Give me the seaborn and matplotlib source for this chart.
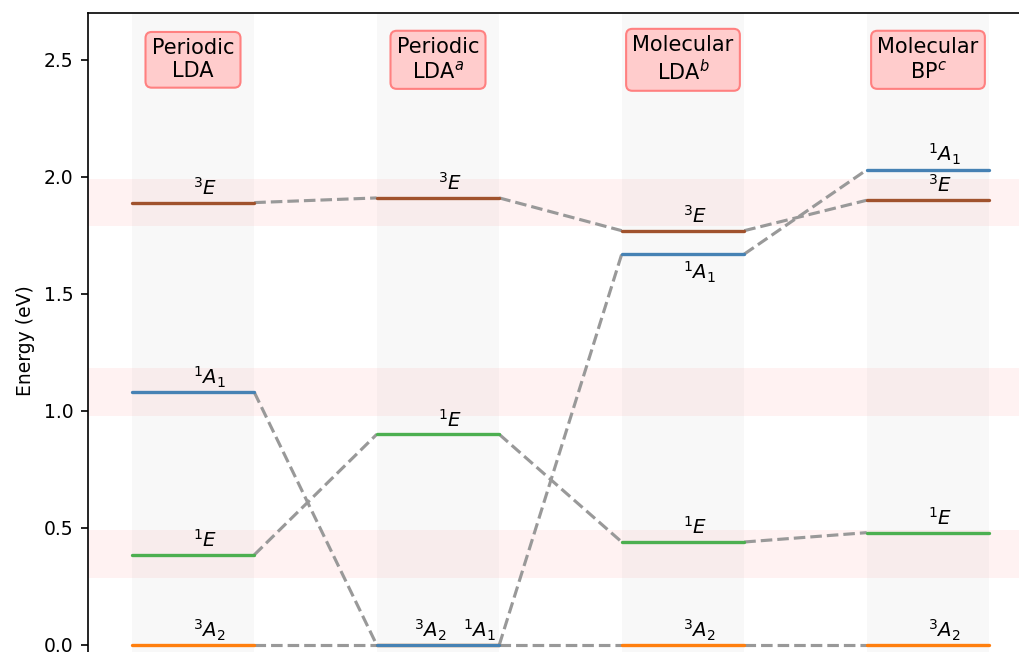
import matplotlib
matplotlib.use("Agg")
import matplotlib.pyplot as plt
import seaborn as sns
import pandas as pd
import numpy as np

# ---- data ----
methods = ["Periodic\nLDA", "Periodic\nLDA$^a$", "Molecular\nLDA$^b$", "Molecular\nBP$^c$"]
state_names = ["3A2", "1E", "1A1", "3E"]
state_tex = {"3A2": "$^3A_2$", "1E": "$^1E$", "1A1": "$^1A_1$", "3E": "$^3E$"}
e_3A2 = [0.0, 0.0, 0.0, 0.0]
e_1E = [0.385, 0.90, 0.44, 0.48]
e_1A1 = [1.08, 0.0, 1.67, 2.03]
e_3E = [1.89, 1.91, 1.77, 1.90]
band_lo = [0.285, 0.98, 1.79]
band_hi = [0.49, 1.185, 1.99]
yticks = [0.0, 0.5, 1.0, 1.5, 2.0, 2.5]

colors = {"3A2": "#ff7f0e", "1E": "#4caf50", "1A1": "#4682b4", "3E": "#a0522d"}
energies = {"3A2": e_3A2, "1E": e_1E, "1A1": e_1A1, "3E": e_3E}

sns.set_theme(style="ticks")
plt.rcParams["font.family"] = ["DejaVu Sans"]
plt.rcParams["mathtext.fontset"] = "dejavusans"
for k in ["text.color", "axes.labelcolor", "xtick.color", "ytick.color", "axes.edgecolor"]:
    plt.rcParams[k] = "black"

fig = plt.figure(figsize=(1019 / 150, 652 / 150), dpi=150)
ax = fig.add_axes([88 / 1019, -16.4 / 652, 945 / 1019, 655.4 / 652])

hw = 0.25
xs = np.arange(len(methods))

# background bands
for lo, hi in zip(band_lo, band_hi):
    ax.axhspan(lo, hi, color="red", alpha=0.05, lw=0, zorder=0)
for x in xs:
    ax.axvspan(x - hw, x + hw, color="gray", alpha=0.05, lw=0, zorder=0)

# connectors
rows = []
for s in state_names:
    e = energies[s]
    for i in range(len(methods) - 1):
        rows.append({"x": xs[i] + hw, "y": e[i], "seg": f"{s}-{i}"})
        rows.append({"x": xs[i + 1] - hw, "y": e[i + 1], "seg": f"{s}-{i}"})
conn = pd.DataFrame(rows)
sns.lineplot(data=conn, x="x", y="y", units="seg", estimator=None, color="#999999",
             lw=1.5, ls="--", ax=ax, zorder=2, sort=False)

# levels
lrows = []
for s in state_names:
    for i, x in enumerate(xs):
        lrows.append({"x": x - hw, "y": energies[s][i], "state": s, "seg": f"{s}-{i}"})
        lrows.append({"x": x + hw, "y": energies[s][i], "state": s, "seg": f"{s}-{i}"})
lev = pd.DataFrame(lrows)
sns.lineplot(data=lev, x="x", y="y", hue="state", units="seg", estimator=None,
             palette=colors, lw=1.6, ax=ax, zorder=3, legend=False, sort=False)

# level labels
label_dx = {(1, "3A2"): -0.1, (1, "1A1"): 0.1}
below = {(2, "1A1")}
for s in state_names:
    for i, x in enumerate(xs):
        dx = label_dx.get((i, s), 0.0)
        y = energies[s][i]
        if (i, s) in below:
            ax.text(x + dx, y - 0.025, state_tex[s], ha="left", va="top", fontsize=9.5, zorder=4)
        else:
            ax.text(x + dx, y + 0.034, state_tex[s], ha="left", va="baseline", fontsize=9.5, zorder=4)

# method headers
for x, m in zip(xs, methods):
    ax.text(x, 2.5, m, ha="center", va="center", fontsize=10, zorder=5,
            bbox=dict(boxstyle="round,pad=0.3", fc="#ffcccc", ec="#ff8080", lw=1))

ax.set_xlim(-0.4286, 3.4286)
ax.set_ylim(-0.1, 2.7)
ax.set_yticks(yticks)
ax.set_yticklabels([f"{t:.1f}" for t in yticks])
ax.set_xticks([])
ax.set_xlabel("")
ax.set_ylabel("Energy (eV)", fontsize=9)
ax.tick_params(axis="y", labelsize=9, length=3.5, width=0.8, colors="black")
for sp in ax.spines.values():
    sp.set_linewidth(0.8)
    sp.set_color("black")

fig.savefig("out.png", dpi=150)
